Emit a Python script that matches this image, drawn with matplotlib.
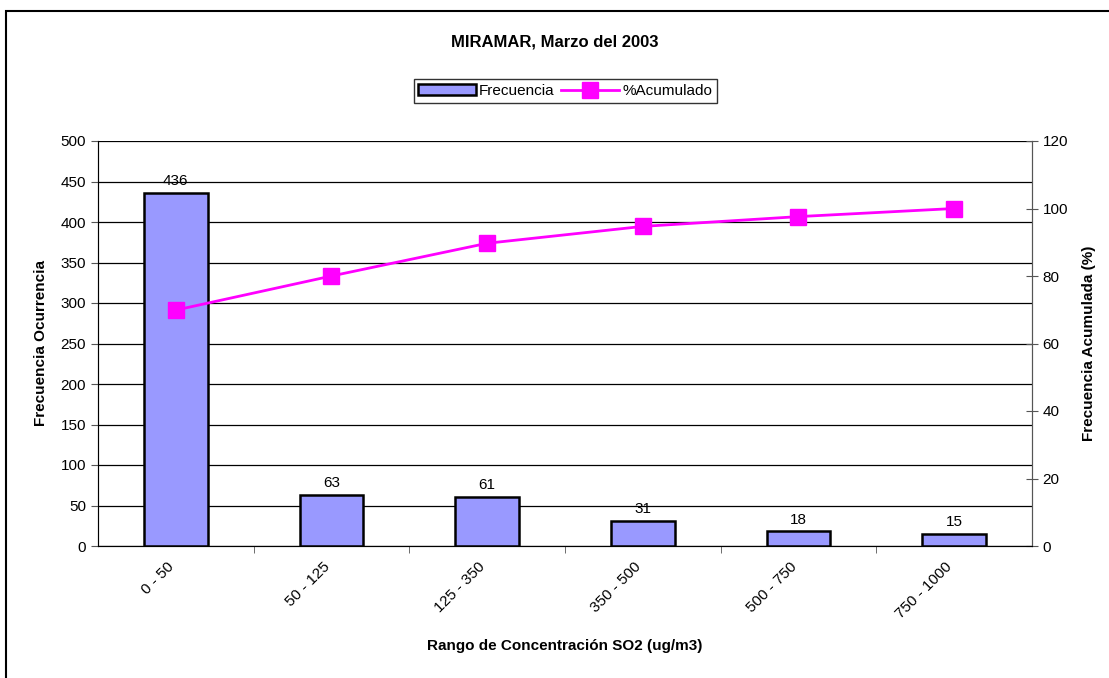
import matplotlib.pyplot as plt
from matplotlib.patches import Rectangle
from matplotlib.transforms import ScaledTranslation
import numpy as np

rangos = ["0 - 50", "50 - 125", "125 - 350", "350 - 500", "500 - 750", "750 - 1000"]
frecuencia = [436, 63, 61, 31, 18, 15]
acumulado = [69.9, 80.0, 89.7, 94.7, 97.6, 100.0]

plt.rcParams['font.family'] = ['Liberation Sans', 'DejaVu Sans']

fig = plt.figure(figsize=(11.09, 6.78), dpi=100)
fig.patches.append(Rectangle((6 / 1109, -0.1), 1.2, 1 - 11 / 678 + 0.1, transform=fig.transFigure,
                             fill=False, edgecolor='black', linewidth=1.5, zorder=0))

ax = fig.add_axes([98 / 1109, 1 - 546 / 678, (1032 - 98) / 1109, (546 - 141) / 678])
x = np.arange(len(rangos))

ax.set_ylim(0, 500)
ax.set_yticks(np.arange(0, 501, 50))
ax.yaxis.grid(True, color='black', linewidth=0.9)
ax.set_axisbelow(True)
bars = ax.bar(x, frecuencia, width=0.41, color='#9999FF', edgecolor='black', linewidth=1.8,
              label='Frecuencia', zorder=2)
for xi, v in zip(x, frecuencia):
    ax.text(xi, v + 6, str(v), ha='center', va='bottom', fontsize=11)

ax.set_xlim(-0.5, len(rangos) - 0.5)
ax.set_xticks(x)
ax.set_xticklabels(rangos, rotation=45, ha='right', rotation_mode='anchor', fontsize=11)
ax.tick_params(axis='x', length=0, pad=10)
shift = ScaledTranslation(-9 / 100, 0, fig.dpi_scale_trans)
for lab in ax.get_xticklabels():
    lab.set_transform(lab.get_transform() + shift)
ax.set_xticks(x[:-1] + 0.5, minor=True)
ax.tick_params(axis='x', which='minor', length=5, color='#555555')
ax.tick_params(axis='y', labelsize=11, length=5, color='#555555')
ax.spines['top'].set_visible(False)
for s in ['left', 'bottom', 'right']:
    ax.spines[s].set_color('#555555')
ax.set_ylabel('Frecuencia Ocurrencia', fontsize=11, fontweight='bold', labelpad=9)
ax.set_xlabel('Rango de Concentración SO2 (ug/m3)', fontsize=11, fontweight='bold', labelpad=13)

ax2 = ax.twinx()
ax2.set_ylim(0, 120)
ax2.set_yticks(np.arange(0, 121, 20))
ax2.tick_params(axis='y', direction='inout', length=8, labelsize=11, color='#555555')
ax2.spines['top'].set_visible(False)
ax2.spines['right'].set_color('#555555')
line, = ax2.plot(x, acumulado, color='#FF00FF', linewidth=2, marker='s', markersize=11,
                 label='%Acumulado', zorder=3)
ax2.set_ylabel('Frecuencia Acumulada (%)', fontsize=11, fontweight='bold', labelpad=10)

fig.text(0.5, 1 - 42 / 678, 'MIRAMAR, Marzo del 2003', ha='center', va='center',
         fontsize=12, fontweight='bold')
leg = fig.legend([bars, line], ['Frecuencia', '%Acumulado'], loc='center',
                 bbox_to_anchor=(565 / 1109, 1 - 91 / 678), ncol=2, fontsize=11,
                 frameon=True, fancybox=False, edgecolor='black', handlelength=3.8,
                 columnspacing=0.4, handletextpad=0.2, borderpad=0.3)
leg.get_frame().set_linewidth(1.0)

fig.savefig('out.png', dpi=100)
